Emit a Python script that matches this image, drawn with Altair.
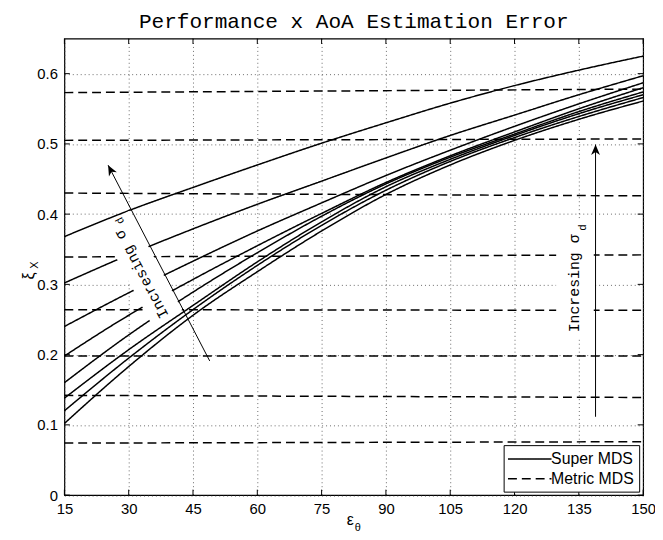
import altair as alt
import pandas as pd

# ---------------- data ----------------
x_vals = [15, 30, 45, 60, 75, 90, 105, 120, 135, 150]
super_mds = [
    [0.368, 0.405, 0.438, 0.470, 0.501, 0.530, 0.558, 0.583, 0.605, 0.625],
    [0.302, 0.342, 0.379, 0.414, 0.447, 0.480, 0.512, 0.541, 0.570, 0.597],
    [0.240, 0.288, 0.333, 0.376, 0.416, 0.455, 0.491, 0.525, 0.557, 0.587],
    [0.198, 0.256, 0.307, 0.355, 0.401, 0.445, 0.483, 0.517, 0.550, 0.580],
    [0.160, 0.228, 0.289, 0.345, 0.397, 0.443, 0.481, 0.514, 0.546, 0.574],
    [0.138, 0.207, 0.270, 0.332, 0.389, 0.439, 0.478, 0.512, 0.543, 0.570],
    [0.120, 0.195, 0.264, 0.327, 0.384, 0.434, 0.475, 0.509, 0.539, 0.566],
    [0.102, 0.183, 0.256, 0.318, 0.376, 0.428, 0.470, 0.505, 0.535, 0.561],
]
metric_x = [15, 150]
metric_left = [0.573, 0.505, 0.430, 0.339, 0.264, 0.198, 0.142, 0.074]
metric_right = [0.578, 0.507, 0.426, 0.342, 0.263, 0.198, 0.139, 0.076]

x_ticks = [15, 30, 45, 60, 75, 90, 105, 120, 135, 150]
y_ticks = [0, 0.1, 0.2, 0.3, 0.4, 0.5, 0.6]

title_text = "Performance x AoA Estimation Error"
series_names = ["Super MDS", "Metric MDS"]

# annotation arrows (data coordinates)
arrow_x = [48.9, 138.9]
arrow_y = [0.191, 0.1115]
arrow_x2 = [25.2, 138.9]
arrow_y2 = [0.4697, 0.499]
arrow_angle = [332.5, 0]

# ---------------- build tables ----------------
rows = []
for i, ys in enumerate(super_mds):
    for xv, yv in zip(x_vals, ys):
        rows.append({"x": xv, "y": yv, "curve": f"s{i}", "series": "Super MDS"})
for i, (a, b) in enumerate(zip(metric_left, metric_right)):
    rows.append({"x": metric_x[0], "y": a, "curve": f"m{i}", "series": "Metric MDS"})
    rows.append({"x": metric_x[1], "y": b, "curve": f"m{i}", "series": "Metric MDS"})
df = pd.DataFrame(rows)

xscale = alt.Scale(domain=[15, 150], nice=False, zero=False)
yscale = alt.Scale(domain=[0, 0.65], nice=False, zero=False)

W, H = 585, 461.5

axis_common = dict(
    title=None, grid=True, gridDash=[1, 3], gridColor="#444", gridWidth=0.8,
    ticks=False, tickSize=0, domain=False, labelFont="Liberation Sans",
    labelFontSize=15, labelColor="black", labelOverlap=False, labelFlush=False,
)

lines = alt.Chart(df).mark_line(color="black", strokeWidth=1.5, interpolate="monotone").encode(
    x=alt.X("x:Q", scale=xscale, axis=alt.Axis(values=x_ticks, labelPadding=7, **axis_common)),
    y=alt.Y("y:Q", scale=yscale, axis=alt.Axis(values=y_ticks, format="~g", labelPadding=7, **axis_common)),
    strokeDash=alt.StrokeDash(
        "series:N",
        scale=alt.Scale(domain=series_names, range=[[1, 0], [9, 5]]),
        legend=alt.Legend(
            title=None, orient="none", legendX=444, legendY=411,
            fillColor="white", strokeColor="black", padding=5, cornerRadius=0,
            symbolType="M-1.2,0H4.3", symbolSize=256, symbolStrokeWidth=1.5,
            symbolStrokeColor="black", labelFont="Liberation Sans", labelFontSize=16,
            labelColor="black", labelOffset=25, rowPadding=3,
        ),
    ),
    detail="curve:N",
)

# white boxes behind rotated annotations (MATLAB text background)
box_left = alt.Chart(pd.DataFrame({"x": [32.86], "y": [0.3228]})).mark_point(
    shape="M-57,-17H57V17H-57Z", angle=242, size=4, filled=True, color="white", opacity=1, strokeWidth=0
).encode(x=alt.X("x:Q", scale=xscale), y=alt.Y("y:Q", scale=yscale))
box_right = alt.Chart(pd.DataFrame({"x": [134.1], "y": [0.3063]})).mark_point(
    shape="M-19,-60H19V60H-19Z", size=4, filled=True, color="white", opacity=1, strokeWidth=0
).encode(x=alt.X("x:Q", scale=xscale), y=alt.Y("y:Q", scale=yscale))

# inward tick marks on all four sides
xt = pd.DataFrame({"x": x_ticks})
yt = pd.DataFrame({"y": y_ticks})
tick_b = alt.Chart(xt).mark_rule(color="black", strokeWidth=1).encode(
    x=alt.X("x:Q", scale=xscale), y=alt.value(H), y2=alt.value(H - 5.5))
tick_t = alt.Chart(xt).mark_rule(color="black", strokeWidth=1).encode(
    x=alt.X("x:Q", scale=xscale), y=alt.value(0), y2=alt.value(5.5))
tick_l = alt.Chart(yt).mark_rule(color="black", strokeWidth=1).encode(
    y=alt.Y("y:Q", scale=yscale), x=alt.value(0), x2=alt.value(5.5))
tick_r = alt.Chart(yt).mark_rule(color="black", strokeWidth=1).encode(
    y=alt.Y("y:Q", scale=yscale), x=alt.value(W), x2=alt.value(W - 5.5))

# arrows
arr = pd.DataFrame({"x": arrow_x, "y": arrow_y, "x2": arrow_x2, "y2": arrow_y2, "a": arrow_angle})
arrow_lines = alt.Chart(arr).mark_rule(color="black", strokeWidth=1).encode(
    x=alt.X("x:Q", scale=xscale), y=alt.Y("y:Q", scale=yscale), x2="x2:Q", y2="y2:Q")
head_path = "M0,0L-4.5,10.5L0,7.5L4.5,10.5Z"
head1 = alt.Chart(arr.iloc[[0]]).mark_point(
    shape=head_path, angle=arrow_angle[0], size=4, filled=True, color="black", opacity=1, strokeWidth=0
).encode(x=alt.X("x2:Q", scale=xscale), y=alt.Y("y2:Q", scale=yscale))
head2 = alt.Chart(arr.iloc[[1]]).mark_point(
    shape=head_path, angle=arrow_angle[1], size=4, filled=True, color="black", opacity=1, strokeWidth=0
).encode(x=alt.X("x2:Q", scale=xscale), y=alt.Y("y2:Q", scale=yscale))

# annotation texts
mono = "Liberation Mono"
txt_l = alt.Chart(pd.DataFrame({"x": [38.3], "y": [0.2528], "t": ["Incresing \u03c3"]})).mark_text(
    font=mono, fontSize=15, angle=242, align="left", baseline="middle", color="black"
).encode(x=alt.X("x:Q", scale=xscale), y=alt.Y("y:Q", scale=yscale), text="t:N")
sub_l = alt.Chart(pd.DataFrame({"x": [28.04], "y": [0.3908], "t": ["d"]})).mark_text(
    font=mono, fontSize=11, angle=242, align="center", baseline="middle", color="black"
).encode(x=alt.X("x:Q", scale=xscale), y=alt.Y("y:Q", scale=yscale), text="t:N")
txt_r = alt.Chart(pd.DataFrame({"x": [133.85], "y": [0.3014], "t": ["Incresing \u03c3"]})).mark_text(
    font=mono, fontSize=15, angle=270, align="center", baseline="middle", color="black"
).encode(x=alt.X("x:Q", scale=xscale), y=alt.Y("y:Q", scale=yscale), text="t:N")
sub_r = alt.Chart(pd.DataFrame({"x": [135.93], "y": [0.381], "t": ["d"]})).mark_text(
    font=mono, fontSize=11, angle=270, align="center", baseline="middle", color="black"
).encode(x=alt.X("x:Q", scale=xscale), y=alt.Y("y:Q", scale=yscale), text="t:N")

# title and axis titles (with subscripts)
title_mark = alt.Chart(pd.DataFrame({"t": [title_text]})).mark_text(
    font=mono, fontSize=21.3, align="center", baseline="alphabetic", color="black"
).encode(x=alt.value(W / 2), y=alt.value(-11), text="t:N")
xt_main = alt.Chart(pd.DataFrame({"t": ["\u03b5"]})).mark_text(
    font="Liberation Sans", fontSize=16, align="center", baseline="middle", color="black"
).encode(x=alt.value(289), y=alt.value(487), text="t:N")
xt_sub = alt.Chart(pd.DataFrame({"t": ["\u03b8"]})).mark_text(
    font="Liberation Sans", fontSize=11, align="center", baseline="middle", color="black"
).encode(x=alt.value(296.5), y=alt.value(495), text="t:N")
yt_main = alt.Chart(pd.DataFrame({"t": ["\u03be"]})).mark_text(
    font="Liberation Sans", fontSize=16, angle=270, align="center", baseline="middle", color="black"
).encode(x=alt.value(-36), y=alt.value(240), text="t:N")
yt_sub = alt.Chart(pd.DataFrame({"t": ["X"]})).mark_text(
    font="Liberation Sans", fontSize=11, angle=270, align="center", baseline="middle", color="black"
).encode(x=alt.value(-30), y=alt.value(229), text="t:N")

chart = alt.layer(
    lines, box_left, box_right, tick_b, tick_t, tick_l, tick_r,
    arrow_lines, head1, head2, txt_l, sub_l, txt_r, sub_r,
    title_mark, xt_main, xt_sub, yt_main, yt_sub,
).properties(
    width=W, height=H,
    padding={"left": 57, "top": 28, "right": 12, "bottom": 40},
    autosize=alt.AutoSizeParams(type="none"),
).configure_view(stroke="black", strokeWidth=1.2)

chart.save("out.html", embed_options={"renderer": "svg", "actions": False})
